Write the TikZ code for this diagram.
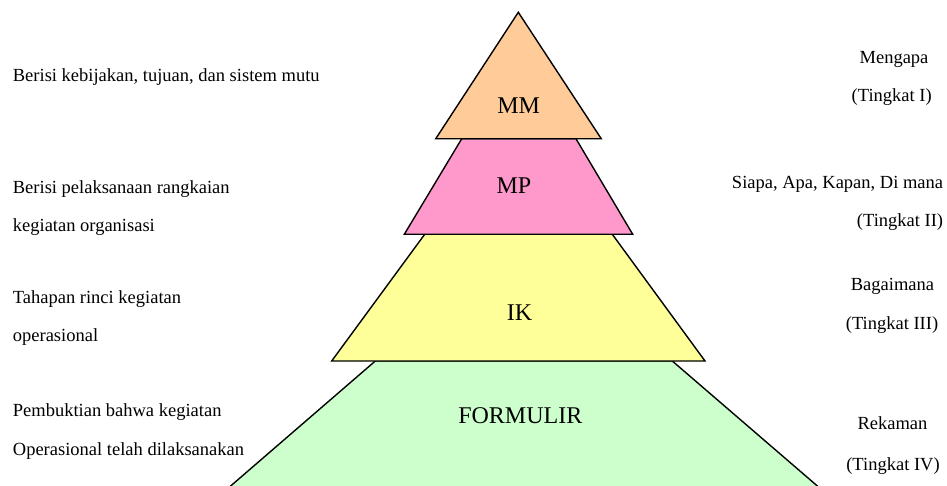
\documentclass[tikz,border=0pt]{standalone}
\usepackage{fontspec}
\setmainfont{Liberation Serif}
\definecolor{mmcol}{HTML}{FFCC99}
\definecolor{mpcol}{HTML}{FF99CC}
\definecolor{ikcol}{HTML}{FFFF99}
\definecolor{fmcol}{HTML}{CCFFCC}
\tikzset{
  layer/.style={draw=black, line width=1.4pt, line join=miter},
  sidetext/.style={inner sep=0pt, font=\fontsize{18.5}{22}\selectfont},
  lvltext/.style={inner sep=0pt, anchor=base, font=\fontsize{24}{28}\selectfont}
}
\begin{document}
\begin{tikzpicture}[x=1pt,y=-1pt]
\useasboundingbox (0,0) rectangle (947,486);
\clip (0,0) rectangle (947,486);
\fill[white] (0,0) rectangle (947,486);
% layers (bottom first)
\fill[fmcol] (226,490) -- (375.3,361) -- (672.3,361) -- (822,490) -- cycle;
\draw[layer] (226,490) -- (375.3,361) -- (672.3,361) -- (822,490);
\filldraw[layer, fill=ikcol] (424.7,234.3) -- (612.3,234.3) -- (705,361) -- (331.7,361) -- cycle;
\filldraw[layer, fill=mpcol] (461.7,138.8) -- (576,138.8) -- (632.7,234.3) -- (404.3,234.3) -- cycle;
\filldraw[layer, fill=mmcol] (518.3,12.3) -- (601.3,138.8) -- (435.7,138.8) -- cycle;
% level labels
\node[lvltext] (mm) at (518.7,114) {MM};
\node[lvltext] (mp) at (514,193.3) {MP};
\node[lvltext] (ik) at (519.5,320.7) {IK};
\node[lvltext] (fm) at (520.3,423.3) {FORMULIR};
% left descriptions
\node[sidetext, anchor=base west] (l1) at (12.7,81.7) {Berisi kebijakan, tujuan, dan sistem mutu};
\node[sidetext, anchor=base west] (l2a) at (12.7,193.3) {Berisi pelaksanaan rangkaian};
\node[sidetext, anchor=base west] (l2b) at (12.7,231.7) {kegiatan organisasi};
\node[sidetext, anchor=base west] (l3a) at (12.7,303.3) {Tahapan rinci kegiatan};
\node[sidetext, anchor=base west] (l3b) at (12.7,341.7) {operasional};
\node[sidetext, anchor=base west] (l4a) at (12.7,416.7) {Pembuktian bahwa kegiatan};
\node[sidetext, anchor=base west] (l4b) at (12.7,455) {Operasional telah dilaksanakan};
% right descriptions
\node[sidetext, anchor=base] (r1a) at (894,63.3) {Mengapa};
\node[sidetext, anchor=base] (r1b) at (891.7,101.7) {(Tingkat I)};
\node[sidetext, anchor=base east] (r2a) at (943.3,188.3) {Siapa, Apa, Kapan, Di mana};
\node[sidetext, anchor=base east] (r2b) at (943.3,226.7) {(Tingkat II)};
\node[sidetext, anchor=base] (r3a) at (892.5,290.7) {Bagaimana};
\node[sidetext, anchor=base] (r3b) at (892,329) {(Tingkat III)};
\node[sidetext, anchor=base] (r4a) at (892.5,429.3) {Rekaman};
\node[sidetext, anchor=base] (r4b) at (893,470) {(Tingkat IV)};
\end{tikzpicture}
\end{document}
